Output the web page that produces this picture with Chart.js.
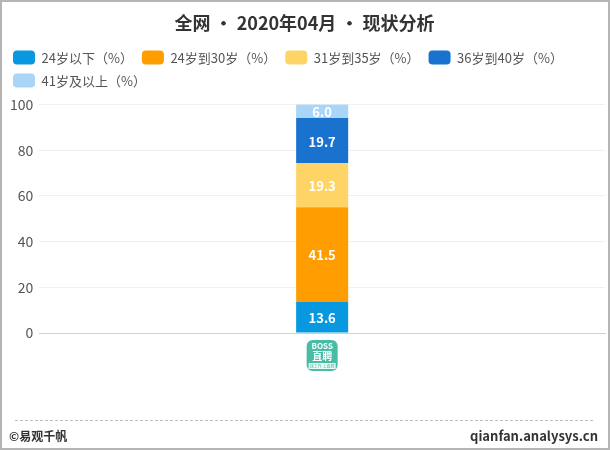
<!DOCTYPE html>
<html>
<head>
<meta charset="utf-8">
<script src="https://cdn.jsdelivr.net/npm/chart.js@4.4.0/dist/chart.umd.min.js"></script>
<style>
  html, body { margin: 0; padding: 0; background: #fff; }
  #wrap { width: 610px; height: 450px; position: relative; }
</style>
</head>
<body>
<div id="wrap"><canvas id="myChart"></canvas></div>
<script>
'use strict';

// data
let categories = ['BOSS直聘'];
let seriesNames = ['24岁以下（%）', '24岁到30岁（%）', '31岁到35岁（%）', '36岁到40岁（%）', '41岁及以上（%）'];
let under24 = [13.6];
let from24to30 = [41.5];
let from31to35 = [19.3];
let from36to40 = [19.7];
let over41 = [6.0];
let yTicks = [0, 20, 40, 60, 80, 100];
let chartTitle = '全网 • 2020年04月 • 现状分析';
let footLeft = '©易观千帆';
let footRight = 'qianfan.analysys.cn';

let colors = ['#0898e0', '#ff9c00', '#ffd466', '#1a72cf', '#a9d5f8'];
let fontFamily = '"Microsoft YaHei", "Noto Sans CJK SC", sans-serif';

let seriesValues = [under24, from24to30, from31to35, from36to40, over41];

let datasets = [];
for (let i = 0; i < seriesNames.length; i++) {
    datasets.push({
        label: seriesNames[i],
        data: seriesValues[i],
        backgroundColor: colors[i],
        borderWidth: 0,
        barPercentage: 0.92,
        categoryPercentage: 0.1
    });
}

// a bit more room under the legend
let legendGap = {
    id: 'legendGap',
    beforeInit(chart) {
        let origFit = chart.legend.fit;
        chart.legend.fit = function () {
            origFit.bind(chart.legend)();
            this.height += 7;
        };
    }
};

// values written inside each bar piece
let barLabels = {
    id: 'barLabels',
    afterDatasetsDraw(chart) {
        let ctx = chart.ctx;
        ctx.save();
        ctx.font = 'bold 13px ' + fontFamily;
        ctx.fillStyle = '#fff';
        ctx.textAlign = 'center';
        ctx.textBaseline = 'middle';
        chart.data.datasets.forEach(function (ds, i) {
            let meta = chart.getDatasetMeta(i);
            meta.data.forEach(function (bar, j) {
                let mid = (bar.y + bar.base) / 2;
                ctx.fillText(ds.data[j].toFixed(1), bar.x, mid + 1);
            });
        });
        ctx.restore();
    }
};

// app icon under the bar, plus frame and footer
let decorations = {
    id: 'decorations',
    afterDraw(chart) {
        let ctx = chart.ctx;
        let xs = chart.scales.x;
        let cx = xs.getPixelForValue(0);
        let top = chart.chartArea.bottom + 7;
        ctx.save();

        // icon
        let w = 31, h = 31, x0 = cx - w / 2;
        ctx.beginPath();
        ctx.roundRect(x0, top, w, h, 6);
        ctx.fillStyle = '#47bda6';
        ctx.fill();
        ctx.fillStyle = '#eef8f5';
        ctx.fillRect(x0 + 2, top + h - 8, w - 4, 6);
        ctx.fillStyle = '#fff';
        ctx.textAlign = 'center';
        ctx.textBaseline = 'middle';
        ctx.font = 'bold 8px ' + fontFamily;
        ctx.fillText('BOSS', cx, top + 6);
        ctx.font = 'bold 10px ' + fontFamily;
        ctx.fillText('直聘', cx, top + 16);
        ctx.fillStyle = '#47bda6';
        ctx.font = '4px ' + fontFamily;
        ctx.fillText('找工作 上直聘', cx, top + h - 5);

        // frame
        ctx.strokeStyle = '#b5b5b5';
        ctx.lineWidth = 2;
        ctx.strokeRect(1, 1, chart.width - 2, chart.height - 2);

        // dashed separator
        ctx.strokeStyle = '#bdbdbd';
        ctx.lineWidth = 1;
        ctx.setLineDash([3, 2]);
        ctx.beginPath();
        ctx.moveTo(15, 420.5);
        ctx.lineTo(595, 420.5);
        ctx.stroke();
        ctx.setLineDash([]);

        // footer text
        ctx.fillStyle = '#333';
        ctx.textBaseline = 'middle';
        ctx.font = 'bold 12px ' + fontFamily;
        ctx.textAlign = 'left';
        ctx.fillText(footLeft, 9, 436);
        ctx.font = 'bold 13px ' + fontFamily;
        ctx.textAlign = 'right';
        ctx.fillText(footRight, 598, 436);
        ctx.restore();
    }
};

let ctx = document.getElementById('myChart').getContext('2d');

let chart = new Chart(ctx, {
    type: 'bar',
    data: {
        labels: categories,
        datasets: datasets
    },
    options: {
        responsive: true,
        maintainAspectRatio: false,
        animation: false,
        layout: {
            padding: { left: 4, right: 5, top: 10, bottom: 116 }
        },
        plugins: {
            title: {
                display: true,
                text: chartTitle,
                color: '#333',
                font: { family: fontFamily, size: 18, weight: 'bold' },
                padding: { top: 2, bottom: 8 }
            },
            legend: {
                position: 'top',
                align: 'start',
                labels: {
                    boxWidth: 22,
                    boxHeight: 14,
                    useBorderRadius: true,
                    borderRadius: 4,
                    color: '#555',
                    padding: 9,
                    font: { family: fontFamily, size: 13 }
                }
            },
            tooltip: { enabled: false }
        },
        scales: {
            x: {
                stacked: true,
                grid: { display: false },
                border: { color: '#cfcfcf' },
                ticks: { display: false },
                afterFit: function (scale) { scale.height = 1; }
            },
            y: {
                stacked: true,
                min: 0,
                max: 100,
                afterBuildTicks: function (scale) {
                    scale.ticks = yTicks.map(function (v) { return { value: v }; });
                },
                grid: { color: '#f0f0f0', drawTicks: false },
                border: { display: false },
                ticks: {
                    color: '#555',
                    padding: 6,
                    font: { family: fontFamily, size: 14 }
                }
            }
        }
    },
    plugins: [legendGap, barLabels, decorations]
});
</script>
</body>
</html>
